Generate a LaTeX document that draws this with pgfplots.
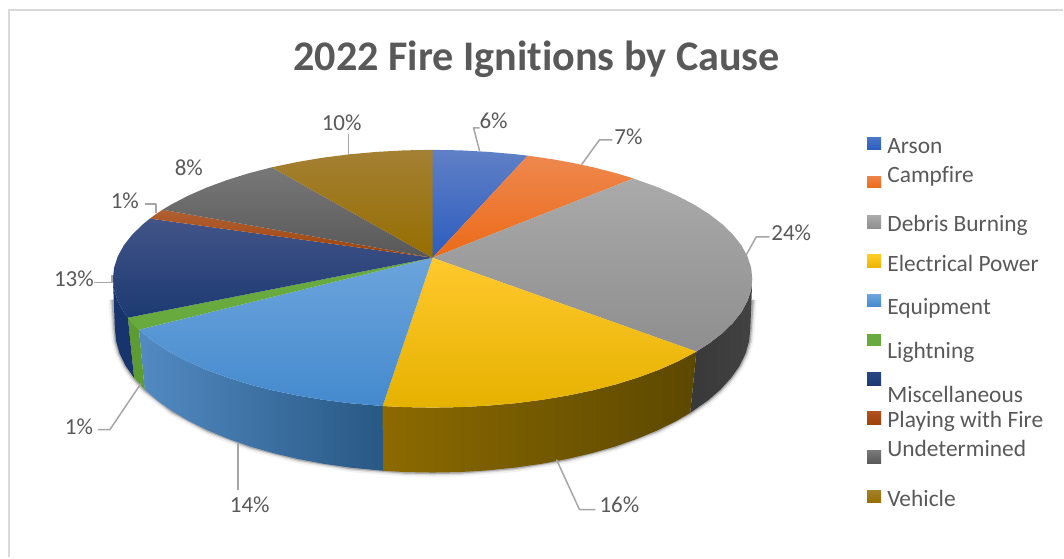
\documentclass[border=0pt]{standalone}
\usepackage{pgfplots}
\pgfplotsset{compat=1.18}
\usepackage{fontspec}
\setmainfont[Ligatures=NoCommon]{Carlito}
\definecolor{frame}{HTML}{D9D9D9}
\definecolor{txt}{HTML}{595959}
\definecolor{lead}{HTML}{A6A6A6}
\pgfplotsset{lab/.style={draw=lead,line width=1.5pt,line join=round},
 shadow/.style={draw=black,line join=round}}
\newcommand{\lbl}[3]{\node[text=txt,font=\fontsize{23}{23}\selectfont,anchor=base] at (axis cs:#1,#2) {#3};}
\newcommand{\leg}[2]{\node[text=txt,font=\fontsize{23.4}{23.4}\selectfont,anchor=base west,inner sep=0pt] at (axis cs:888,#1) {#2};}
\begin{document}
\begin{tikzpicture}
\begin{axis}[scale only axis,width=1064pt,height=558pt,hide axis,
 xmin=0,xmax=1064,ymin=0,ymax=558,y dir=reverse,clip=false]
% page
\addplot[fill=white,draw=none] coordinates {(0,0)(1064,0)(1064,558)(0,558)};
\addplot[draw=frame,line width=2pt] coordinates {(9,558)(9,10)(1064,10)};
% soft shadow below the rim
\addplot[shadow,opacity=.05,line width=9pt] coordinates {(753,300)(751,329)(749.8,341.6)(746.2,354)(740.2,366.3)(731.8,378.2)(721.2,389.9)(708.4,401)(690.9,413.2)(657.9,430.8)(615.4,447)(567.4,459.5)(515.3,468.1)(460.7,472.5)(433,473)(405.3,472.5)(350.7,468.1)(298.6,459.5)(250.6,447)(208.1,430.8)(172.5,411.6)(144.8,389.9)(134.2,378.2)(125.8,366.3)(119.8,354)(116.2,341.6)(115,329)(113,300)};
\addplot[shadow,opacity=.10,line width=5.5pt] coordinates {(753,300)(751,329)(749.8,341.6)(746.2,354)(740.2,366.3)(731.8,378.2)(721.2,389.9)(708.4,401)(690.9,413.2)(657.9,430.8)(615.4,447)(567.4,459.5)(515.3,468.1)(460.7,472.5)(433,473)(405.3,472.5)(350.7,468.1)(298.6,459.5)(250.6,447)(208.1,430.8)(172.5,411.6)(144.8,389.9)(134.2,378.2)(125.8,366.3)(119.8,354)(116.2,341.6)(115,329)(113,300)};
\addplot[shadow,opacity=.20,line width=3pt] coordinates {(753,300)(751,329)(749.8,341.6)(746.2,354)(740.2,366.3)(731.8,378.2)(721.2,389.9)(708.4,401)(690.9,413.2)(657.9,430.8)(615.4,447)(567.4,459.5)(515.3,468.1)(460.7,472.5)(433,473)(405.3,472.5)(350.7,468.1)(298.6,459.5)(250.6,447)(208.1,430.8)(172.5,411.6)(144.8,389.9)(134.2,378.2)(125.8,366.3)(119.8,354)(116.2,341.6)(115,329)(113,300)};
% side walls
\addplot[draw=none,left color=black!78,right color=black!74] coordinates {(697,351.9)(710.1,343.5)(723,333.5)(733.7,323.1)(742.1,312.4)(748.1,301.4)(751.8,290.2)(753,279)(751,329)(749.8,341.6)(746.2,354)(740.2,366.3)(731.8,378.2)(721.2,389.9)(708.4,401)(690.9,413.2)};
\addplot[draw=none,left color={rgb,255:red,140;green,106;blue,0},middle color={rgb,255:red,100;green,78;blue,0},right color={rgb,255:red,92;green,72;blue,0}] coordinates {(697,351.9)(678.1,361.9)(659.3,370.2)(638.7,377.8)(616.6,384.7)(593,390.7)(568.2,395.9)(542.4,400.2)(515.8,403.6)(488.6,406)(460.9,407.5)(433,408)(405.1,407.5)(383,406.4)(383.3,471.2)(405.3,472.5)(433,473)(460.7,472.5)(488.2,470.8)(515.3,468.1)(541.8,464.3)(567.4,459.5)(592,453.7)(615.4,447)(637.4,439.3)(657.9,430.8)(676.6,421.6)(690.9,413.2)};
\addplot[draw=none,left color={rgb,255:red,82;green,138;blue,194},right color={rgb,255:red,40;green,88;blue,132}] coordinates {(383,406.4)(350.2,403.6)(323.6,400.2)(297.8,395.9)(273,390.7)(249.4,384.7)(227.3,377.8)(206.7,370.2)(187.9,361.9)(170.9,353)(155.9,343.5)(143,333.5)(139.1,330)(144.8,389.9)(157.6,401)(172.5,411.6)(189.4,421.6)(208.1,430.8)(228.6,439.3)(250.6,447)(274,453.7)(298.6,459.5)(324.2,464.3)(350.7,468.1)(383.3,471.2)};
\addplot[fill={rgb,255:red,92;green,156;blue,50},draw=none] coordinates {(139.1,330)(132.3,323.1)(128,318)(134.2,378.2)(144.8,389.9)};
\addplot[fill={rgb,255:red,24;green,52;blue,108},draw=none] coordinates {(128,318)(123.9,312.4)(117.9,301.4)(114.2,290.2)(113,279)(115,329)(116.2,341.6)(119.8,354)(125.8,366.3)(134.2,378.2)};
% top faces
\addplot[draw=none,top color={rgb,255:red,96;green,128;blue,198},bottom color={rgb,255:red,44;green,92;blue,190}] coordinates {(433,258)(433,150)(460.9,150.5)(488.6,152)(515.8,154.4)(528.2,155.8)};
\addplot[draw=none,top color={rgb,255:red,238;green,136;blue,78},bottom color={rgb,255:red,236;green,106;blue,24}] coordinates {(433,258)(528.2,155.8)(552.9,159.4)(573.3,163.1)(593,167.3)(616.6,173.3)(634,178.6)};
\addplot[draw=none,top color={rgb,255:red,170;green,170;blue,170},bottom color={rgb,255:red,142;green,142;blue,142}] coordinates {(433,258)(634,178.6)(659.3,187.8)(678.1,196.1)(695.1,205)(710.1,214.5)(723,224.5)(733.7,234.9)(742.1,245.6)(748.1,256.6)(751.8,267.8)(753,279)(751.8,290.2)(748.1,301.4)(742.1,312.4)(733.7,323.1)(723,333.5)(710.1,343.5)(697,351.9)};
\addplot[draw=none,top color={rgb,255:red,255;green,200;blue,45},middle color={rgb,255:red,255;green,192;blue,0},bottom color={rgb,255:red,230;green,178;blue,0}] coordinates {(433,258)(697,351.9)(678.1,361.9)(659.3,370.2)(638.7,377.8)(616.6,384.7)(593,390.7)(568.2,395.9)(542.4,400.2)(515.8,403.6)(488.6,406)(460.9,407.5)(433,408)(405.1,407.5)(383,406.4)};
\addplot[draw=none,top color={rgb,255:red,108;green,164;blue,220},bottom color={rgb,255:red,68;green,138;blue,206}] coordinates {(433,258)(383,406.4)(350.2,403.6)(323.6,400.2)(297.8,395.9)(273,390.7)(249.4,384.7)(227.3,377.8)(206.7,370.2)(187.9,361.9)(170.9,353)(155.9,343.5)(143,333.5)(139.1,330)};
\addplot[fill={rgb,255:red,104;green,170;blue,62},draw=none] coordinates {(433,258)(139.1,330)(132.3,323.1)(128,318)};
\addplot[draw=none,top color={rgb,255:red,66;green,84;blue,136},middle color={rgb,255:red,34;green,62;blue,118},bottom color={rgb,255:red,28;green,58;blue,114}] coordinates {(433,258)(128,318)(123.9,312.4)(117.9,301.4)(114.2,290.2)(113,279)(114.2,267.8)(117.9,256.6)(123.9,245.6)(132.3,234.9)(143,224.5)(150,218.8)};
\addplot[draw=none,top color={rgb,255:red,176;green,96;blue,52},bottom color={rgb,255:red,158;green,66;blue,8}] coordinates {(433,258)(150,218.8)(155.9,214.5)(162.8,209.9)};
\addplot[draw=none,top color={rgb,255:red,120;green,120;blue,120},bottom color={rgb,255:red,88;green,88;blue,88}] coordinates {(433,258)(162.8,209.9)(170.9,205)(187.9,196.1)(206.7,187.8)(227.3,180.2)(249.4,173.3)(272,167.5)};
\addplot[draw=none,top color={rgb,255:red,164;green,128;blue,52},bottom color={rgb,255:red,150;green,110;blue,0}] coordinates {(433,258)(272,167.5)(297.8,162.1)(323.6,157.8)(350.2,154.4)(377.4,152)(405.1,150.5)(433,150)};
% leaders
\addplot[lab] coordinates {(480,151)(474,128)(480,128)};
\addplot[lab] coordinates {(582,165)(600,140)(613,140)};
\addplot[lab] coordinates {(747,255)(757,237)(770,237)};
\addplot[lab] coordinates {(557,460)(580,510)(596,510)};
\addplot[lab] coordinates {(238,443)(238,490)};
\addplot[lab] coordinates {(141,384)(110,430)(98,430)};
\addplot[lab] coordinates {(94,283)(112,283)(112,275)};
\addplot[lab] coordinates {(145,204)(156,204)(156,213)};
\addplot[lab] coordinates {(349,155)(349,134)};
% labels
\lbl{494}{129}{6\%}
\lbl{629}{145}{7\%}
\lbl{792}{241}{24\%}
\lbl{620}{513}{16\%}
\lbl{250}{513}{14\%}
\lbl{79}{435}{1\%}
\lbl{74}{287}{13\%}
\lbl{125}{209}{1\%}
\lbl{189}{176}{8\%}
\lbl{342}{131}{10\%}
% title
\node[text=txt,font=\fontsize{42.2}{42.2}\selectfont\bfseries,anchor=base] at (axis cs:537,71) {2022 Fire Ignitions by Cause};
% legend keys
\addplot[draw=none,top color={rgb,255:red,72;green,116;blue,200},bottom color={rgb,255:red,44;green,92;blue,190}] coordinates {(868,138)(882,138)(882,150)(868,150)};
\addplot[draw=none,top color={rgb,255:red,238;green,130;blue,70},bottom color={rgb,255:red,236;green,106;blue,24}] coordinates {(868,177)(882,177)(882,188)(868,188)};
\addplot[draw=none,top color={rgb,255:red,170;green,170;blue,170},bottom color={rgb,255:red,142;green,142;blue,142}] coordinates {(868,216)(882,216)(882,229)(868,229)};
\addplot[draw=none,top color={rgb,255:red,255;green,204;blue,40},bottom color={rgb,255:red,236;green,180;blue,0}] coordinates {(868,255)(882,255)(882,268)(868,268)};
\addplot[draw=none,top color={rgb,255:red,108;green,164;blue,220},bottom color={rgb,255:red,68;green,138;blue,206}] coordinates {(868,295)(882,295)(882,307)(868,307)};
\addplot[fill={rgb,255:red,104;green,170;blue,62},draw=none] coordinates {(868,334)(882,334)(882,346)(868,346)};
\addplot[draw=none,top color={rgb,255:red,40;green,70;blue,130},bottom color={rgb,255:red,28;green,58;blue,114}] coordinates {(868,373)(882,373)(882,386)(868,386)};
\addplot[draw=none,top color={rgb,255:red,176;green,80;blue,30},bottom color={rgb,255:red,158;green,66;blue,8}] coordinates {(868,412)(882,412)(882,425)(868,425)};
\addplot[draw=none,top color={rgb,255:red,120;green,120;blue,120},bottom color={rgb,255:red,88;green,88;blue,88}] coordinates {(868,451)(882,451)(882,464)(868,464)};
\addplot[draw=none,top color={rgb,255:red,164;green,128;blue,40},bottom color={rgb,255:red,150;green,110;blue,0}] coordinates {(868,491)(882,491)(882,503)(868,503)};
\leg{154}{Arson}
\leg{183}{Campfire}
\leg{232}{Debris Burning}
\leg{272}{Electrical Power}
\leg{315}{Equipment}
\leg{359}{Lightning}
\leg{403}{Miscellaneous}
\leg{428}{Playing with Fire}
\leg{457}{Undetermined}
\leg{507}{Vehicle}
\end{axis}
\end{tikzpicture}
\end{document}
